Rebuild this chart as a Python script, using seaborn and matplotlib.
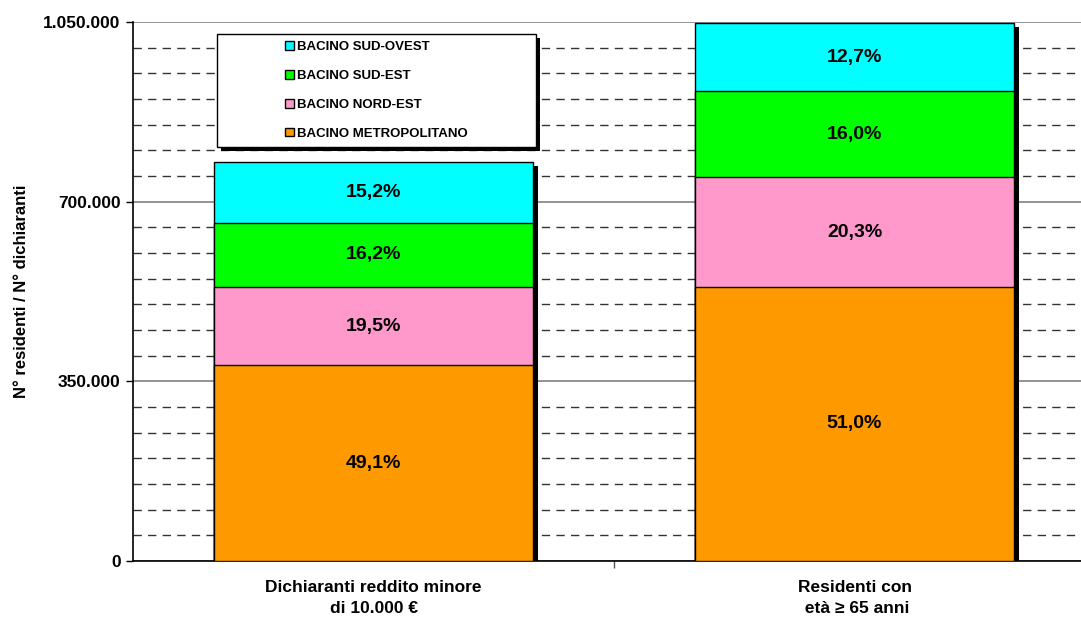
import matplotlib
matplotlib.use("Agg")
import matplotlib.pyplot as plt
import matplotlib.patches as mpatches
import matplotlib.patheffects as pe
from matplotlib.transforms import ScaledTranslation
from matplotlib.ticker import MultipleLocator, FixedLocator
import seaborn as sns
import numpy as np

# ---- data ----
categories = ["Dichiaranti reddito minore\ndi 10.000 €", "Residenti con\n età ≥ 65 anni"]
totals = [777300, 1048000]
series_names = ["BACINO METROPOLITANO", "BACINO NORD-EST", "BACINO SUD-EST", "BACINO SUD-OVEST"]
pct_metropolitano = [49.1, 51.0]
pct_nord_est = [19.5, 20.3]
pct_sud_est = [16.2, 16.0]
pct_sud_ovest = [15.2, 12.7]
series_colors = ["#FF9900", "#FF99CC", "#00FF00", "#00FFFF"]
y_ticks = [0, 350000, 700000, 1050000]
y_ticklabels = ["0", "350.000", "700.000", "1.050.000"]
y_label = "N° residenti / N° dichiaranti"

sns.set_theme(style="white")
plt.rcParams["font.family"] = ["Liberation Sans", "DejaVu Sans"]
plt.rcParams["font.weight"] = "bold"
plt.rcParams["text.color"] = "black"
plt.rcParams["axes.labelcolor"] = "black"
plt.rcParams["xtick.color"] = "black"
plt.rcParams["ytick.color"] = "black"

fig = plt.figure(figsize=(10.81, 6.17), dpi=100)
ax = fig.add_axes([133 / 1081, 56 / 617, 962 / 1081, 539 / 617])

pcts = np.array([pct_metropolitano, pct_nord_est, pct_sud_est, pct_sud_ovest])
tot = np.array(totals, dtype=float)
values = pcts / 100.0 * tot  # segment sizes
cum = np.cumsum(values, axis=0)

bar_w = 0.665

# shadow
n_before = len(ax.patches)
sns.barplot(x=categories, y=tot, color="black", width=bar_w, edgecolor="black",
            linewidth=0, saturation=1, ax=ax, zorder=2)
shift = ScaledTranslation(3.2 / 72, -3.2 / 72, fig.dpi_scale_trans)
for p in ax.patches[n_before:]:
    p.set_transform(ax.transData + shift)

# stacked segments: draw largest cumulative first
for i in range(len(series_names) - 1, -1, -1):
    sns.barplot(x=categories, y=cum[i], color=series_colors[i], width=bar_w,
                edgecolor="black", linewidth=1.0, saturation=1, ax=ax, zorder=3)

# labels
for j in range(len(categories)):
    for i in range(len(series_names)):
        mid = cum[i][j] - values[i][j] / 2
        ax.text(j, mid, f"{pcts[i][j]:.1f}".replace(".", ",") + "%", ha="center", va="center",
                fontsize=14, fontweight="bold", color="black", zorder=4)

ax.set_xlim(-0.5, 1.5)
ax.set_ylim(0, 1050000)
ax.set_yticks(y_ticks)
ax.set_yticklabels(y_ticklabels, fontsize=12.5, fontweight="bold", color="black")
ax.yaxis.set_minor_locator(MultipleLocator(50000))
ax.set_xticks([0, 1])
ax.set_xticklabels(categories, fontsize=12.5, fontweight="bold", linespacing=1.45, color="black")
ax.xaxis.set_minor_locator(FixedLocator([0.5]))
ax.tick_params(axis="x", which="major", length=0, pad=14)
ax.tick_params(axis="x", which="minor", length=5, width=1, color="#555555", direction="out", bottom=True)
ax.tick_params(axis="y", which="major", length=5, width=1, color="black", direction="out", left=True, pad=4)
ax.tick_params(axis="y", which="minor", length=0)
ax.set_xlabel("")
ax.set_ylabel(y_label, fontsize=12, fontweight="bold", labelpad=10, color="black")

ax.set_axisbelow(True)
ax.grid(which="major", axis="y", color="#808080", linewidth=1.2, linestyle="-", zorder=0)
ax.grid(which="minor", axis="y", color="#333333", linewidth=1.0, linestyle=(0, (6, 4.5)), zorder=0)
ax.grid(which="major", axis="x", visible=False)

for s in ["top", "right"]:
    ax.spines[s].set_visible(False)
for s in ["left", "bottom"]:
    ax.spines[s].set_color("black")
    ax.spines[s].set_linewidth(1.2)

# legend box with shadow
lx0, ly0 = (217 - 133) / 962, (561 - 147) / 539
lw, lh = (536 - 217) / 962, (147 - 34) / 539
rect = mpatches.Rectangle((lx0, ly0), lw, lh, transform=ax.transAxes, facecolor="white",
                          edgecolor="black", linewidth=1, zorder=5,
                          path_effects=[pe.SimplePatchShadow(offset=(3, -3), shadow_rgbFace="black", alpha=1),
                                        pe.Normal()])
ax.add_patch(rect)
handles = [mpatches.Patch(facecolor=series_colors[i], edgecolor="black", linewidth=1)
           for i in range(len(series_names) - 1, -1, -1)]
labels = [series_names[i] for i in range(len(series_names) - 1, -1, -1)]
leg = ax.legend(handles, labels, loc="center", bbox_to_anchor=(lx0, ly0, lw, lh),
                bbox_transform=ax.transAxes, frameon=False,
                prop={"size": 9.5, "weight": "bold"}, handlelength=0.65, handleheight=0.65,
                handletextpad=0.25, labelspacing=1.27, borderpad=0, labelcolor="black")
leg.set_zorder(6)

fig.savefig("out.png", dpi=100)
